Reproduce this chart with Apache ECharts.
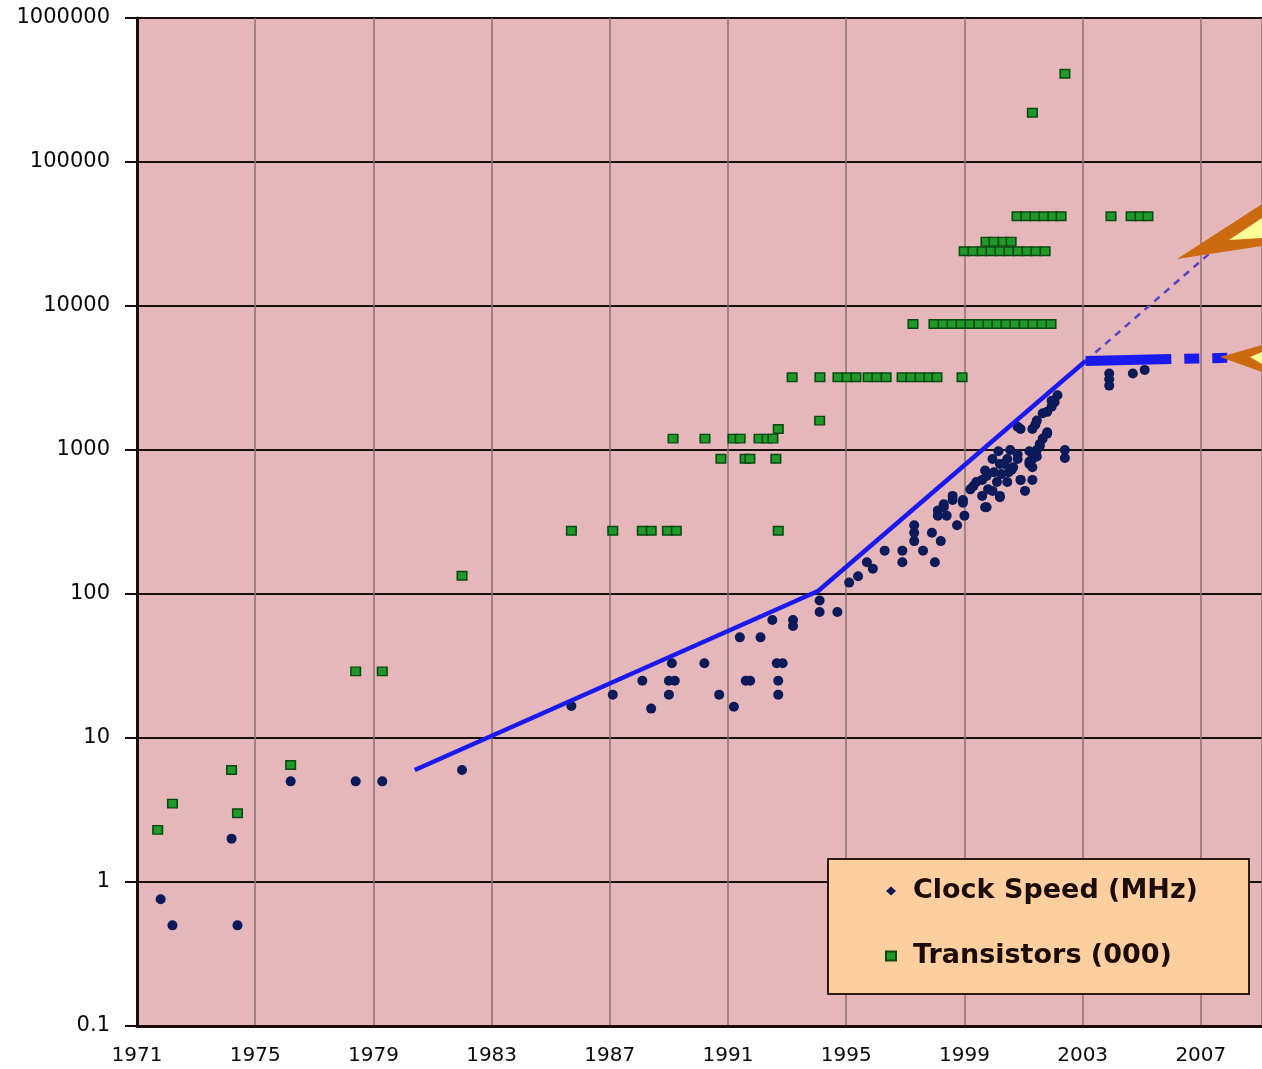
<!DOCTYPE html>
<html>
<head>
<meta charset="UTF-8">
<title>Clock Speed and Transistors</title>
<script src="https://cdn.jsdelivr.net/npm/echarts@6/dist/echarts.min.js"></script>
<style>html,body,#container{width:100%;height:100%;margin:0;padding:0;background:#fff;}</style>
</head>
<body>
<div id="container"></div>
<script>
// x values are stored as years, the axis runs in "years since 1971"
var BASE_YEAR = 1971;
var yearTicks = [1971, 1975, 1979, 1983, 1987, 1991, 1995, 1999, 2003, 2007];
var valueTicks = [0.1, 1, 10, 100, 1000, 10000, 100000, 1000000];

// Clock Speed (MHz)  [year, MHz]
var clockSpeed = [
  [1971.8, 0.76], [1972.2, 0.5], [1974.4, 0.5], [1974.2, 2],
  [1976.2, 5], [1978.4, 5], [1979.3, 5], [1982.0, 6],
  [1985.7, 16.7], [1987.1, 20], [1988.1, 25], [1988.4, 16], [1989.0, 25], [1989.2, 25],
  [1989.0, 20], [1989.1, 33], [1990.2, 33], [1990.7, 20], [1991.2, 16.5], [1991.4, 50],
  [1991.6, 25], [1991.75, 25], [1992.1, 50], [1992.5, 66], [1992.65, 33], [1992.85, 33],
  [1992.7, 25], [1992.7, 20], [1993.2, 66], [1993.2, 60], [1994.1, 90], [1994.1, 75],
  [1994.7, 75], [1995.1, 120], [1995.4, 133], [1995.7, 166], [1995.9, 150], [1996.3, 200],
  [1996.9, 200], [1996.9, 166], [1997.3, 300], [1997.3, 266], [1997.3, 233], [1997.6, 200],
  [1998.0, 166], [1997.9, 266], [1998.2, 233], [1998.1, 350], [1998.3, 400], [1998.4, 350],
  [1998.6, 450], [1998.75, 300], [1998.95, 450], [1999.0, 350], [1999.2, 533], [1999.4, 600],
  [1999.6, 480], [1999.75, 660], [1999.8, 533], [1999.75, 400], [2000.0, 700], [2000.1, 600],
  [2000.2, 480], [2000.2, 800], [2000.45, 866], [2000.5, 700], [2000.8, 933], [2000.65, 760],
  [2000.9, 620], [2001.05, 520], [2001.2, 800], [2001.3, 620], [2001.3, 866], [2001.45, 1000],
  [2001.55, 1100], [2001.8, 1300], [2000.9, 1400], [2001.4, 1500], [2001.65, 1800], [2001.95, 2200],
  [2002.4, 1000], [2002.4, 880], [2002.15, 2400], [2001.95, 2000], [2001.45, 1600], [2001.3, 1400],
  [2001.8, 1330], [2001.65, 1200], [2001.55, 1066], [2001.2, 980], [2000.55, 1000], [2000.15, 980],
  [1999.95, 866], [2000.35, 800], [2000.8, 866], [2001.2, 833], [2001.45, 900], [2001.3, 760],
  [1999.7, 720], [1999.6, 620], [2000.25, 680], [2000.6, 730], [2000.9, 620], [2000.45, 600],
  [1999.3, 560], [1999.95, 520], [1999.7, 400], [2000.2, 470], [1998.6, 480], [1998.95, 430],
  [1998.3, 420], [1998.1, 380], [2000.8, 1450], [2002.05, 2150], [2001.8, 1840],
  [2003.9, 3400], [2003.9, 3100], [2003.9, 2800], [2004.7, 3400], [2005.1, 3600]
];

// Transistors (000)  [year, thousands]
var transistors = [
  [1971.7, 2.3], [1972.2, 3.5], [1974.2, 6], [1974.4, 3], [1976.2, 6.5],
  [1978.4, 29], [1979.3, 29], [1982.0, 134],
  [1985.7, 275], [1987.1, 275], [1988.1, 275], [1988.4, 275], [1988.95, 275], [1989.25, 275], [1992.7, 275],
  [1990.76, 870], [1991.58, 870], [1991.74, 870], [1992.62, 870],
  [1989.14, 1200], [1990.22, 1200], [1991.17, 1200], [1991.41, 1200], [1992.05, 1200], [1992.32, 1200], [1992.52, 1200],
  [1992.7, 1400], [1994.1, 1600],
  [1993.17, 3200], [1994.11, 3200], [1994.72, 3200], [1995.03, 3200], [1995.33, 3200], [1995.74, 3200],
  [1996.04, 3200], [1996.35, 3200], [1996.89, 3200], [1997.19, 3200], [1997.5, 3200], [1997.8, 3200],
  [1998.07, 3200], [1998.92, 3200],
  [1997.26, 7500], [1997.97, 7500], [1998.28, 7500], [1998.58, 7500], [1998.89, 7500], [1999.19, 7500],
  [1999.49, 7500], [1999.8, 7500], [2000.1, 7500], [2000.41, 7500], [2000.71, 7500], [2001.02, 7500],
  [2001.32, 7500], [2001.63, 7500], [2001.93, 7500],
  [1998.99, 24000], [1999.29, 24000], [1999.6, 24000], [1999.9, 24000], [2000.2, 24000],
  [2000.51, 24000], [2000.81, 24000], [2001.12, 24000], [2001.42, 24000], [2001.73, 24000],
  [1999.73, 28000], [2000.0, 28000], [2000.31, 28000], [2000.58, 28000],
  [2000.78, 42000], [2001.08, 42000], [2001.39, 42000], [2001.69, 42000], [2002.0, 42000], [2002.27, 42000],
  [2003.96, 42000], [2004.64, 42000], [2004.94, 42000], [2005.21, 42000],
  [2001.3, 220000], [2002.4, 410000]
];

// trend lines [year, value]
var trendLine = [[1980.4, 6], [1994.05, 105], [2003.1, 4150]];
var trendFlat = [[2003.1, 4150], [2006.0, 4280]];
var trendFlatDashed = [[2006.0, 4280], [2009.07, 4420]];
var trendExtrapolated = [[2003.1, 4150], [2009.07, 48000]];

function shift(list) {
  return list.map(function (p) { return [p[0] - BASE_YEAR, p[1]]; });
}

var chart = echarts.init(document.getElementById('container'));

var option = {
  backgroundColor: '#ffffff',
  animation: false,
  grid: {
    left: 137, right: 0, top: 18, bottom: 43,
    show: true, backgroundColor: '#e5b7ba', borderWidth: 0
  },
  xAxis: {
    type: 'value',
    min: 0,
    max: 38.07,
    interval: 4,
    axisLine: { show: true, lineStyle: { color: '#1a0c0c', width: 3 } },
    axisTick: { show: false },
    splitLine: { show: true, lineStyle: { color: '#8a7272', width: 1.5 } },
    axisLabel: {
      margin: 20,
      fontFamily: 'DejaVu Sans',
      fontSize: 20,
      color: '#0a0a0a',
      showMaxLabel: false,
      formatter: function (v) {
        var y = Math.round(v) + BASE_YEAR;
        if (Math.abs(v - Math.round(v)) > 1e-6) return '';
        return yearTicks.indexOf(y) >= 0 ? String(y) : '';
      }
    }
  },
  yAxis: {
    type: 'log',
    logBase: 10,
    min: 0.1,
    max: 1000000,
    axisLine: { show: true, lineStyle: { color: '#1a0c0c', width: 3 } },
    axisTick: { show: true, length: 12, lineStyle: { color: '#1a0c0c', width: 2 } },
    splitLine: { show: true, lineStyle: { color: '#1a0f0f', width: 2 } },
    axisLabel: {
      margin: 27,
      fontFamily: 'DejaVu Sans',
      fontSize: 21,
      color: '#0a0a0a',
      formatter: function (v) {
        var n = +(+v).toPrecision(6);
        for (var i = 0; i < valueTicks.length; i++) {
          if (Math.abs(valueTicks[i] - n) / valueTicks[i] < 1e-6) return String(valueTicks[i]);
        }
        return '';
      }
    }
  },
  legend: {
    orient: 'vertical',
    left: 885,
    top: 876,
    z: 10,
    padding: 0,
    itemWidth: 10,
    itemHeight: 9,
    itemGap: 35,
    textStyle: {
      fontFamily: 'DejaVu Sans',
      fontWeight: 'bold',
      fontSize: 27,
      lineHeight: 30,
      color: '#1c0c08',
      padding: [0, 0, 0, 12]
    },
    data: [
      { name: 'Clock Speed (MHz)', icon: 'diamond' },
      { name: 'Transistors (000)', icon: 'rect' }
    ]
  },
  graphic: [
    {
      type: 'rect', z: 8,
      shape: { x: 828, y: 859, width: 421, height: 135 },
      style: { fill: '#fdcf9f', stroke: '#2a1a10', lineWidth: 2 }
    },
    {
      type: 'polygon', z: 20,
      shape: { points: [[1177, 259], [1262, 204], [1262, 246]] },
      style: { fill: '#cc6a10' }
    },
    {
      type: 'polygon', z: 21,
      shape: { points: [[1229, 240], [1262, 218], [1262, 238]] },
      style: { fill: '#ffff99' }
    },
    {
      type: 'polygon', z: 20,
      shape: { points: [[1220, 357], [1262, 345], [1262, 372]] },
      style: { fill: '#cc6a10' }
    },
    {
      type: 'polygon', z: 21,
      shape: { points: [[1250, 357], [1262, 352], [1262, 364]] },
      style: { fill: '#ffff99' }
    }
  ],
  series: [
    {
      name: 'Transistors (000)',
      type: 'scatter',
      symbol: 'rect',
      symbolSize: [9.5, 8.5],
      itemStyle: { color: '#1f9a2a', borderColor: '#0a4a10', borderWidth: 1.5, opacity: 1 },
      data: shift(transistors),
      z: 3
    },
    {
      name: 'Clock Speed (MHz)',
      type: 'scatter',
      symbol: 'circle',
      symbolSize: 10,
      itemStyle: { color: '#0c1a5a', opacity: 1 },
      data: shift(clockSpeed),
      z: 3
    },
    {
      name: 'trend',
      type: 'line',
      symbol: 'none',
      lineStyle: { color: '#1a1aee', width: 4.5 },
      data: shift(trendLine),
      z: 5
    },
    {
      name: 'trend flat',
      type: 'line',
      symbol: 'none',
      lineStyle: { color: '#1a1aee', width: 10, cap: 'butt' },
      data: shift(trendFlat),
      z: 5
    },
    {
      name: 'trend flat dashed',
      type: 'line',
      symbol: 'none',
      lineStyle: { color: '#1a1aee', width: 10, type: [15, 13], dashOffset: 15, cap: 'butt' },
      data: shift(trendFlatDashed),
      z: 5
    },
    {
      name: 'trend extrapolated',
      type: 'line',
      symbol: 'none',
      lineStyle: { color: '#5545c8', width: 2.5, type: [7, 6] },
      data: shift(trendExtrapolated),
      z: 4
    }
  ]
};

chart.setOption(option);
</script>
</body>
</html>
